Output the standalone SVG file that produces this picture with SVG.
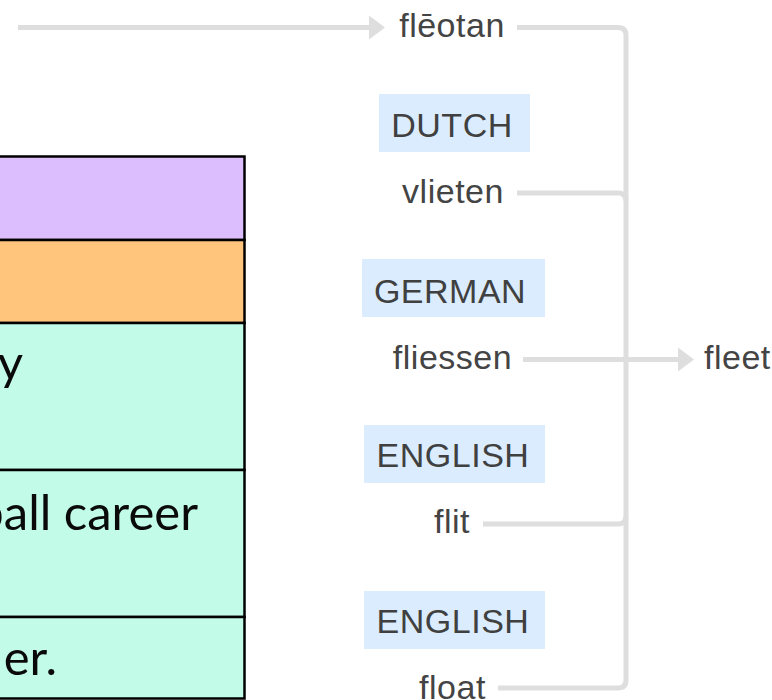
<svg xmlns="http://www.w3.org/2000/svg" width="772" height="700" viewBox="0 0 772 700">
  <defs>
    <style>
      .row { stroke: #000; stroke-width: 2.5; }
      .purple { fill: #dcbdfd; }
      .orange { fill: #ffc57d; }
      .green { fill: #c2fce8; }
      .cell { font-family: Lato, "Liberation Sans", sans-serif; font-size: 49px; fill: #0a0a0a; text-anchor: end; }
      .badge rect { fill: #daecfd; }
      .lbl { font-family: "Liberation Sans", Arial, sans-serif; font-size: 34px; fill: #404040; text-anchor: middle; letter-spacing: 0.5px; }
      .word { font-family: "Liberation Sans", Arial, sans-serif; font-size: 34px; fill: #444444; text-anchor: middle; letter-spacing: 0.5px; }
      .conn { fill: none; stroke: #dedede; stroke-width: 5; }
    </style>
    <marker id="arr" markerUnits="userSpaceOnUse" markerWidth="16" markerHeight="28" refX="0" refY="14" orient="auto" viewBox="0 0 16 28">
      <path d="M0,2 L16,14 L0,26 Z" fill="#dedede"/>
    </marker>
  </defs>
  <rect width="772" height="700" fill="#ffffff"/>

  <g id="table">
    <g id="row1"><rect class="row purple" x="-3" y="156.5" width="247.5" height="83.5"/></g>
    <g id="row2"><rect class="row orange" x="-3" y="240" width="247.5" height="83"/></g>
    <g id="row3"><rect class="row green" x="-3" y="323" width="247.5" height="147"/>
      <text class="cell" x="23" y="380">y</text></g>
    <g id="row4"><rect class="row green" x="-3" y="470" width="247.5" height="147"/>
      <text class="cell" x="198" y="529.5">ball career</text></g>
    <g id="row5"><rect class="row green" x="-3" y="617" width="247.5" height="81.5"/>
      <text class="cell" x="57" y="675">er.</text></g>
  </g>

  <g id="connectors">
    <path class="conn" d="M18,27.5 H369" marker-end="url(#arr)"/>
    <path class="conn" d="M517,27.5 H618 Q626,27.5 626,35.5 V680 Q626,688 618,688 H498"/>
    <path class="conn" d="M517,193 H618 Q626,193 626,201"/>
    <path class="conn" d="M483,524 H618 Q626,524 626,516"/>
    <path class="conn" d="M523,359.5 H678" marker-end="url(#arr)"/>
  </g>

  <g id="badge-dutch" class="badge"><rect x="379" y="94" width="151" height="58"/><text class="lbl" x="452" y="137">DUTCH</text></g>
  <g id="badge-german" class="badge"><rect x="362" y="259" width="183" height="58"/><text class="lbl" x="450" y="303">GERMAN</text></g>
  <g id="badge-english1" class="badge"><rect x="364" y="425" width="181" height="58"/><text class="lbl" x="453" y="467">ENGLISH</text></g>
  <g id="badge-english2" class="badge"><rect x="364" y="591" width="181" height="58"/><text class="lbl" x="453" y="633">ENGLISH</text></g>

  <g id="word-fleotan"><text class="word" x="452" y="36.5">flēotan</text></g>
  <g id="word-vlieten"><text class="word" x="453" y="203">vlieten</text></g>
  <g id="word-fliessen"><text class="word" x="452.5" y="369">fliessen</text></g>
  <g id="word-fleet"><text class="word" x="704" y="369" style="text-anchor:start">fleet</text></g>
  <g id="word-flit"><text class="word" x="452" y="533">flit</text></g>
  <g id="word-float"><text class="word" x="452.5" y="699">float</text></g>
</svg>
